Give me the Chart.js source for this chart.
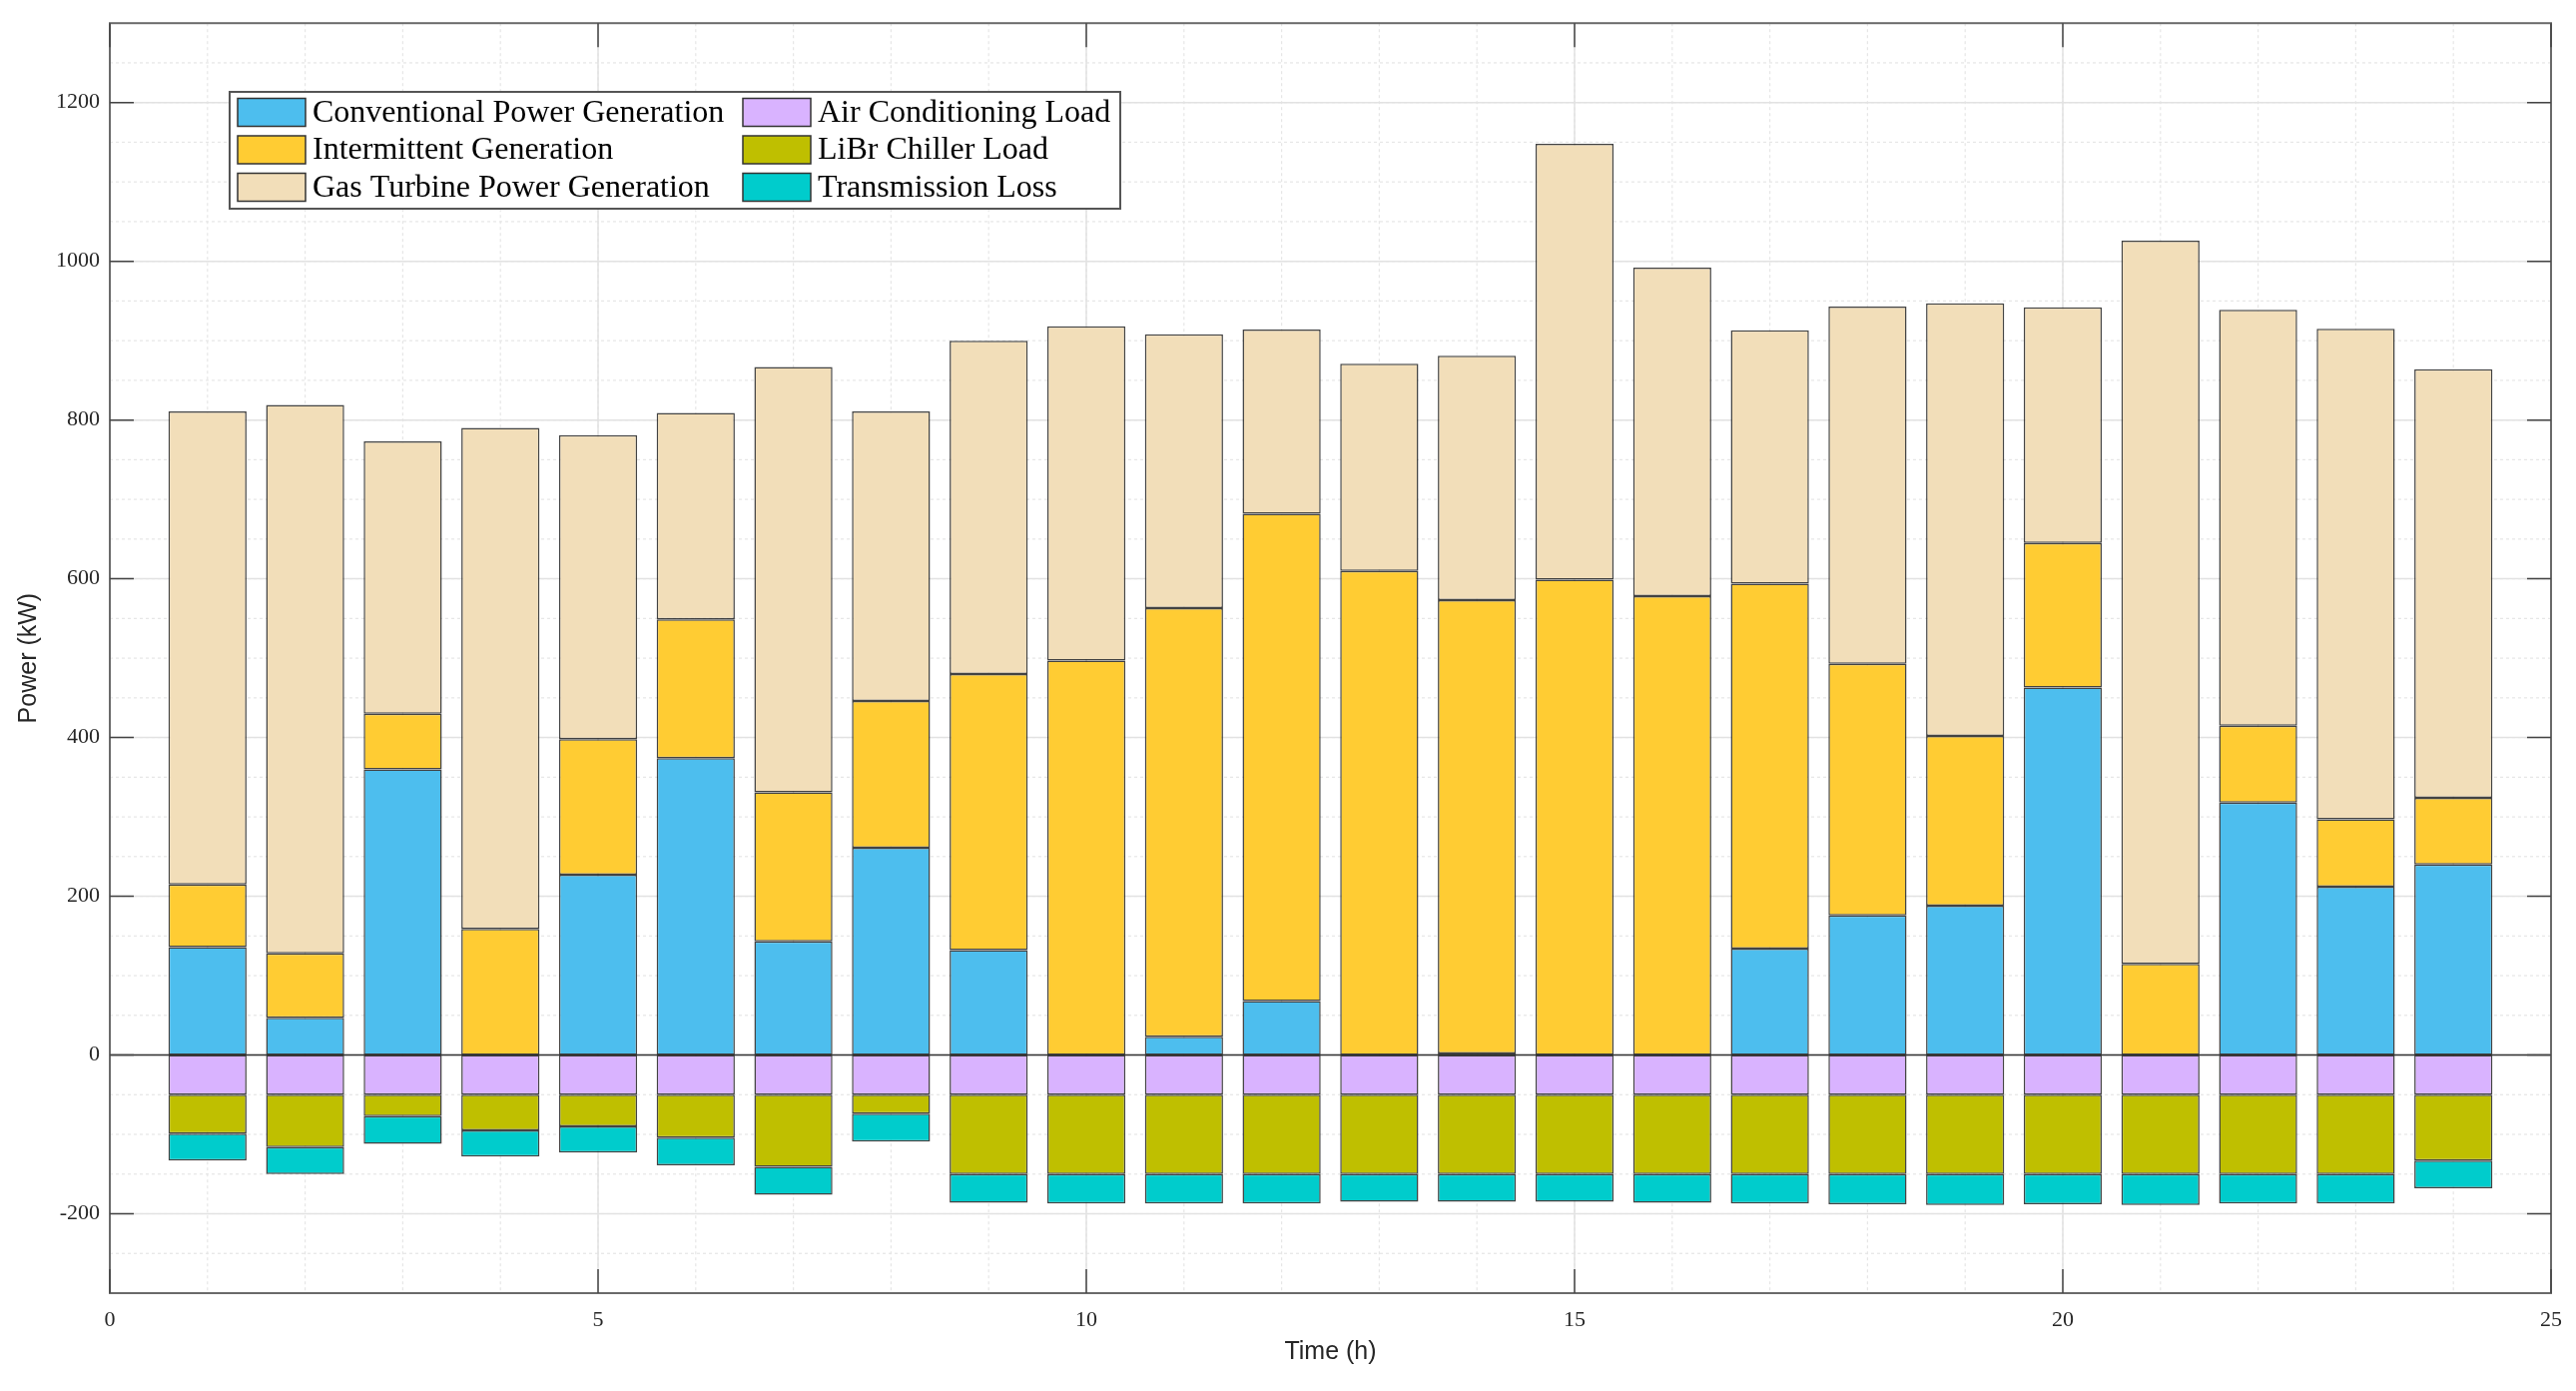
<!DOCTYPE html>
<html>
<head>
<meta charset="utf-8">
<script src="https://cdn.jsdelivr.net/npm/chart.js@4.4.0/dist/chart.umd.min.js"></script>
<style>
  html, body { margin: 0; padding: 0; background: #fff; }
  #wrap { width: 2580px; height: 1393px; }
</style>
</head>
<body>
<div id="wrap"><canvas id="chart"></canvas></div>
<script>
// hourly power balance (kW)
const hours = [1, 2, 3, 4, 5, 6, 7, 8, 9, 10, 11, 12, 13, 14, 15, 16, 17, 18, 19, 20, 21, 22, 23, 24];
const conventional = [136, 47, 360, 0, 227, 374, 143, 261, 132, 0, 23, 68, 0, 2, 0, 0, 134, 176, 188, 463, 0, 318, 212, 240];
const intermittent = [79, 81, 70, 159, 171, 175, 188, 185, 348, 497, 540, 614, 610, 571, 599, 578, 460, 317, 214, 182, 115, 97, 85, 84];
const gasTurbine = [596, 691, 343, 631, 383, 260, 536, 365, 420, 421, 345, 232, 261, 308, 549, 414, 319, 450, 545, 297, 911, 524, 618, 540];
const airCond = [-50, -50, -50, -50, -50, -50, -50, -50, -50, -50, -50, -50, -50, -50, -50, -50, -50, -50, -50, -50, -50, -50, -50, -50];
const librChiller = [-49, -66, -27, -45, -40, -54, -91, -24, -100, -100, -100, -100, -100, -100, -100, -100, -100, -100, -100, -100, -100, -100, -100, -83];
const transLoss = [-34, -34, -35, -33, -33, -35, -35, -35, -36, -37, -37, -37, -35, -35, -35, -36, -37, -38, -39, -38, -39, -37, -37, -35];

const xTicks = [0, 5, 10, 15, 20, 25];
const yTicks = [-200, 0, 200, 400, 600, 800, 1000, 1200];

const toPoints = (vals) => hours.map((h, i) => ({ x: h, y: vals[i] }));

const series = [
  { label: "Conventional Power Generation", data: conventional, color: "#4DBEEE" },
  { label: "Intermittent Generation", data: intermittent, color: "#FFCC33" },
  { label: "Gas Turbine Power Generation", data: gasTurbine, color: "#F2DEB9" },
  { label: "Air Conditioning Load", data: airCond, color: "#D9B3FF" },
  { label: "LiBr Chiller Load", data: librChiller, color: "#BFBF00" },
  { label: "Transmission Loss", data: transLoss, color: "#00CCCC" },
];

const TICK_FONT = { family: "Liberation Serif", size: 22 };
const TITLE_FONT = { family: "Liberation Sans", size: 25 };

// grid, baseline, box and inward ticks in the MATLAB look
const axesDecor = {
  id: "axesDecor",
  beforeDatasetsDraw(chart) {
    const { ctx, chartArea: a, scales: { x, y } } = chart;
    ctx.save();
    ctx.lineWidth = 1.2;
    ctx.strokeStyle = "#e6e6e6";
    ctx.setLineDash([3, 3]);
    for (let v = x.min + 1; v < x.max; v++) {
      const px = x.getPixelForValue(v);
      ctx.beginPath(); ctx.moveTo(px, a.top); ctx.lineTo(px, a.bottom); ctx.stroke();
    }
    for (let v = y.min + 50; v < y.max; v += 50) {
      const py = y.getPixelForValue(v);
      ctx.beginPath(); ctx.moveTo(a.left, py); ctx.lineTo(a.right, py); ctx.stroke();
    }
    ctx.setLineDash([]);
    ctx.strokeStyle = "#e2e2e2";
    ctx.lineWidth = 1.5;
    xTicks.forEach((v) => {
      const px = x.getPixelForValue(v);
      ctx.beginPath(); ctx.moveTo(px, a.top); ctx.lineTo(px, a.bottom); ctx.stroke();
    });
    yTicks.forEach((v) => {
      const py = y.getPixelForValue(v);
      ctx.beginPath(); ctx.moveTo(a.left, py); ctx.lineTo(a.right, py); ctx.stroke();
    });
    ctx.restore();
  },
  afterDatasetsDraw(chart) {
    const { ctx, chartArea: a, scales: { y } } = chart;
    const py = y.getPixelForValue(0);
    ctx.save();
    ctx.strokeStyle = "#333";
    ctx.lineWidth = 1.5;
    ctx.beginPath(); ctx.moveTo(a.left, py); ctx.lineTo(a.right, py); ctx.stroke();
    ctx.restore();
  },
  afterDraw(chart) {
    const { ctx, chartArea: a, scales: { x, y } } = chart;
    const tl = 24;
    ctx.save();
    ctx.strokeStyle = "#6a6a6a";
    ctx.lineWidth = 2;
    ctx.strokeRect(a.left, a.top, a.right - a.left, a.bottom - a.top);
    ctx.strokeStyle = "#444";
    ctx.lineWidth = 1.5;
    xTicks.forEach((v) => {
      const px = x.getPixelForValue(v);
      ctx.beginPath();
      ctx.moveTo(px, a.bottom); ctx.lineTo(px, a.bottom - tl);
      ctx.moveTo(px, a.top); ctx.lineTo(px, a.top + tl);
      ctx.stroke();
    });
    yTicks.forEach((v) => {
      const py = y.getPixelForValue(v);
      ctx.beginPath();
      ctx.moveTo(a.left, py); ctx.lineTo(a.left + tl, py);
      ctx.moveTo(a.right, py); ctx.lineTo(a.right - tl, py);
      ctx.stroke();
    });
    ctx.restore();
  },
};

// two-column legend box, filled column by column
const boxLegend = {
  id: "boxLegend",
  afterDraw(chart) {
    const ctx = chart.ctx;
    const x0 = 230, y0 = 92, w = 892, h = 117;
    ctx.save();
    ctx.fillStyle = "#fff";
    ctx.fillRect(x0, y0, w, h);
    ctx.strokeStyle = "#555";
    ctx.lineWidth = 2;
    ctx.strokeRect(x0, y0, w, h);
    ctx.font = '32px "Liberation Serif"';
    ctx.textBaseline = "middle";
    chart.data.datasets.forEach((ds, i) => {
      const col = Math.floor(i / 3), row = i % 3;
      const sx = x0 + 8 + col * 506;
      const cy = y0 + 20.5 + row * 37.5;
      ctx.fillStyle = ds.backgroundColor;
      ctx.fillRect(sx, cy - 14, 68, 28);
      ctx.strokeStyle = "#333";
      ctx.lineWidth = 1.5;
      ctx.strokeRect(sx, cy - 14, 68, 28);
      ctx.fillStyle = "#000";
      ctx.fillText(ds.label, sx + 75, cy + 1);
    });
    ctx.restore();
  },
};

new Chart(document.getElementById("chart"), {
  type: "bar",
  data: {
    datasets: series.map((s) => ({
      label: s.label,
      data: toPoints(s.data),
      backgroundColor: s.color,
      borderColor: "rgba(20,20,20,0.8)",
      borderWidth: 1.5,
      borderSkipped: false,
      categoryPercentage: 1,
      barPercentage: 0.8,
    })),
  },
  options: {
    responsive: true,
    maintainAspectRatio: false,
    devicePixelRatio: 1,
    animation: false,
    layout: { padding: { top: 21, right: 25, left: 0, bottom: 0 } },
    plugins: {
      legend: { display: false },
      tooltip: { enabled: false },
    },
    scales: {
      x: {
        type: "linear",
        stacked: true,
        min: 0,
        max: 25,
        offset: false,
        grid: { display: false, drawTicks: false },
        border: { display: false },
        afterBuildTicks: (scale) => { scale.ticks = xTicks.map((v) => ({ value: v })); },
        afterFit: (scale) => { scale.height = 98; },
        ticks: { font: TICK_FONT, color: "#262626", padding: 14, maxRotation: 0, autoSkip: false, callback: (v) => String(v) },
        title: { display: true, text: "Time (h)", font: TITLE_FONT, color: "#262626", padding: { top: 0, bottom: 24 } },
      },
      y: {
        stacked: true,
        min: -300,
        max: 1300,
        grid: { display: false, drawTicks: false },
        border: { display: false },
        afterBuildTicks: (scale) => { scale.ticks = yTicks.map((v) => ({ value: v })); },
        afterFit: (scale) => { scale.width = 110; },
        ticks: { font: TICK_FONT, color: "#262626", padding: 10, autoSkip: false, callback: (v) => String(v) },
        title: { display: true, text: "Power (kW)", font: TITLE_FONT, color: "#262626", padding: { top: 14, bottom: 0 } },
      },
    },
  },
  plugins: [axesDecor, boxLegend],
});
</script>
</body>
</html>
